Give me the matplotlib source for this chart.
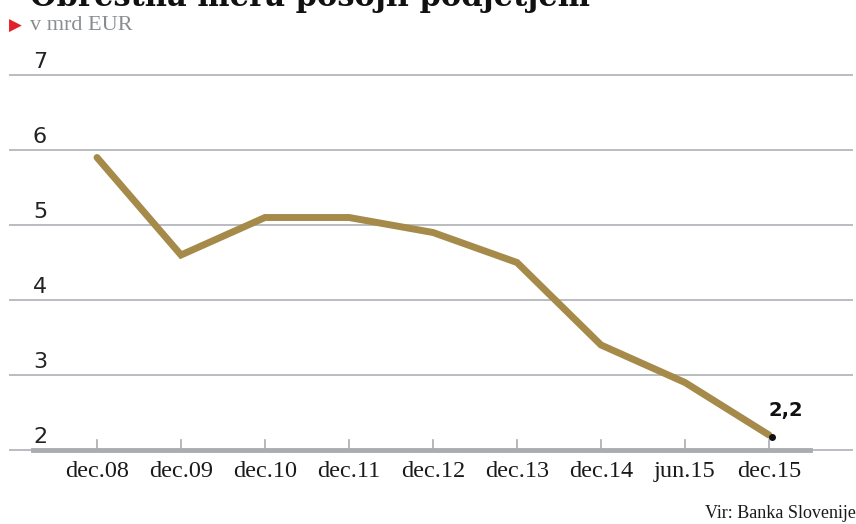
import matplotlib.pyplot as plt

periods = ['dec.08', 'dec.09', 'dec.10', 'dec.11', 'dec.12', 'dec.13', 'dec.14', 'jun.15', 'dec.15']
loans = [5.9, 4.6, 5.1, 5.1, 4.9, 4.5, 3.4, 2.9, 2.2]
y_ticks = [2, 3, 4, 5, 6, 7]

W, H = 856, 524
fig = plt.figure(figsize=(W / 100, H / 100), dpi=100)
ax = fig.add_axes([0, 0, 1, 1])
ax.set_xlim(-97 / 84, (W - 97) / 84)
ax.set_ylim(2 - 74 / 75, 8)
ax.axis('off')

grid_c = '#b9bdc1'
lab_x = -97 / 84 + 40 / 84
for v in y_ticks:
    ax.axhline(v, xmin=10 / W, xmax=852 / W, color=grid_c, lw=1.4, zorder=1)
    ax.text(lab_x, v + 0.04, str(v), ha='center', va='bottom',
            fontsize=16, family='DejaVu Sans', color='#222222')
# heavier bar under the data on the bottom line
ax.axhline(2, xmin=33 / W, xmax=810 / W, color='#a9adb0', lw=3.5, zorder=2)

x = list(range(len(periods)))
for i, lab in zip(x, periods):
    ax.plot([i, i], [2, 2.13], color='#a9adb0', lw=1.2, zorder=2)
    ax.text(i, 1.71, lab, ha='center', va='center', fontsize=17.5,
            family='Liberation Serif', color='#1a1a1a')

ax.plot(x, loans, color='#a68a4a', lw=5, solid_capstyle='round',
        solid_joinstyle='miter', zorder=3)
ax.plot(x[-1] + 0.03, loans[-1] - 0.03, 'o', color='#111111', ms=4, zorder=4)
ax.text(x[-1] + 0.2, loans[-1] + 0.2, '2,2', ha='center', va='bottom',
        fontsize=14, fontweight='bold', family='DejaVu Sans', color='#111111')

# header and source
fig.text(30 / W, 1 - 6 / H, 'Obrestna mera posojil podjetjem', ha='left', va='baseline',
         fontsize=22, fontweight='black', family='DejaVu Serif', color='#111111')
fig.text(9 / W, 1 - 26 / H, '\u25B6', ha='left', va='center', fontsize=12,
         family='DejaVu Sans', color='#e3202a')
fig.text(30 / W, 1 - 25 / H, 'v mrd EUR', ha='left', va='center', fontsize=16,
         family='Liberation Serif', color='#8a8d90')
fig.text(1.0, 1 - 514 / H, 'Vir: Banka Slovenije', ha='right', va='center', fontsize=13,
         family='Liberation Serif', color='#1a1a1a')

fig.savefig('out.png', dpi=100)
